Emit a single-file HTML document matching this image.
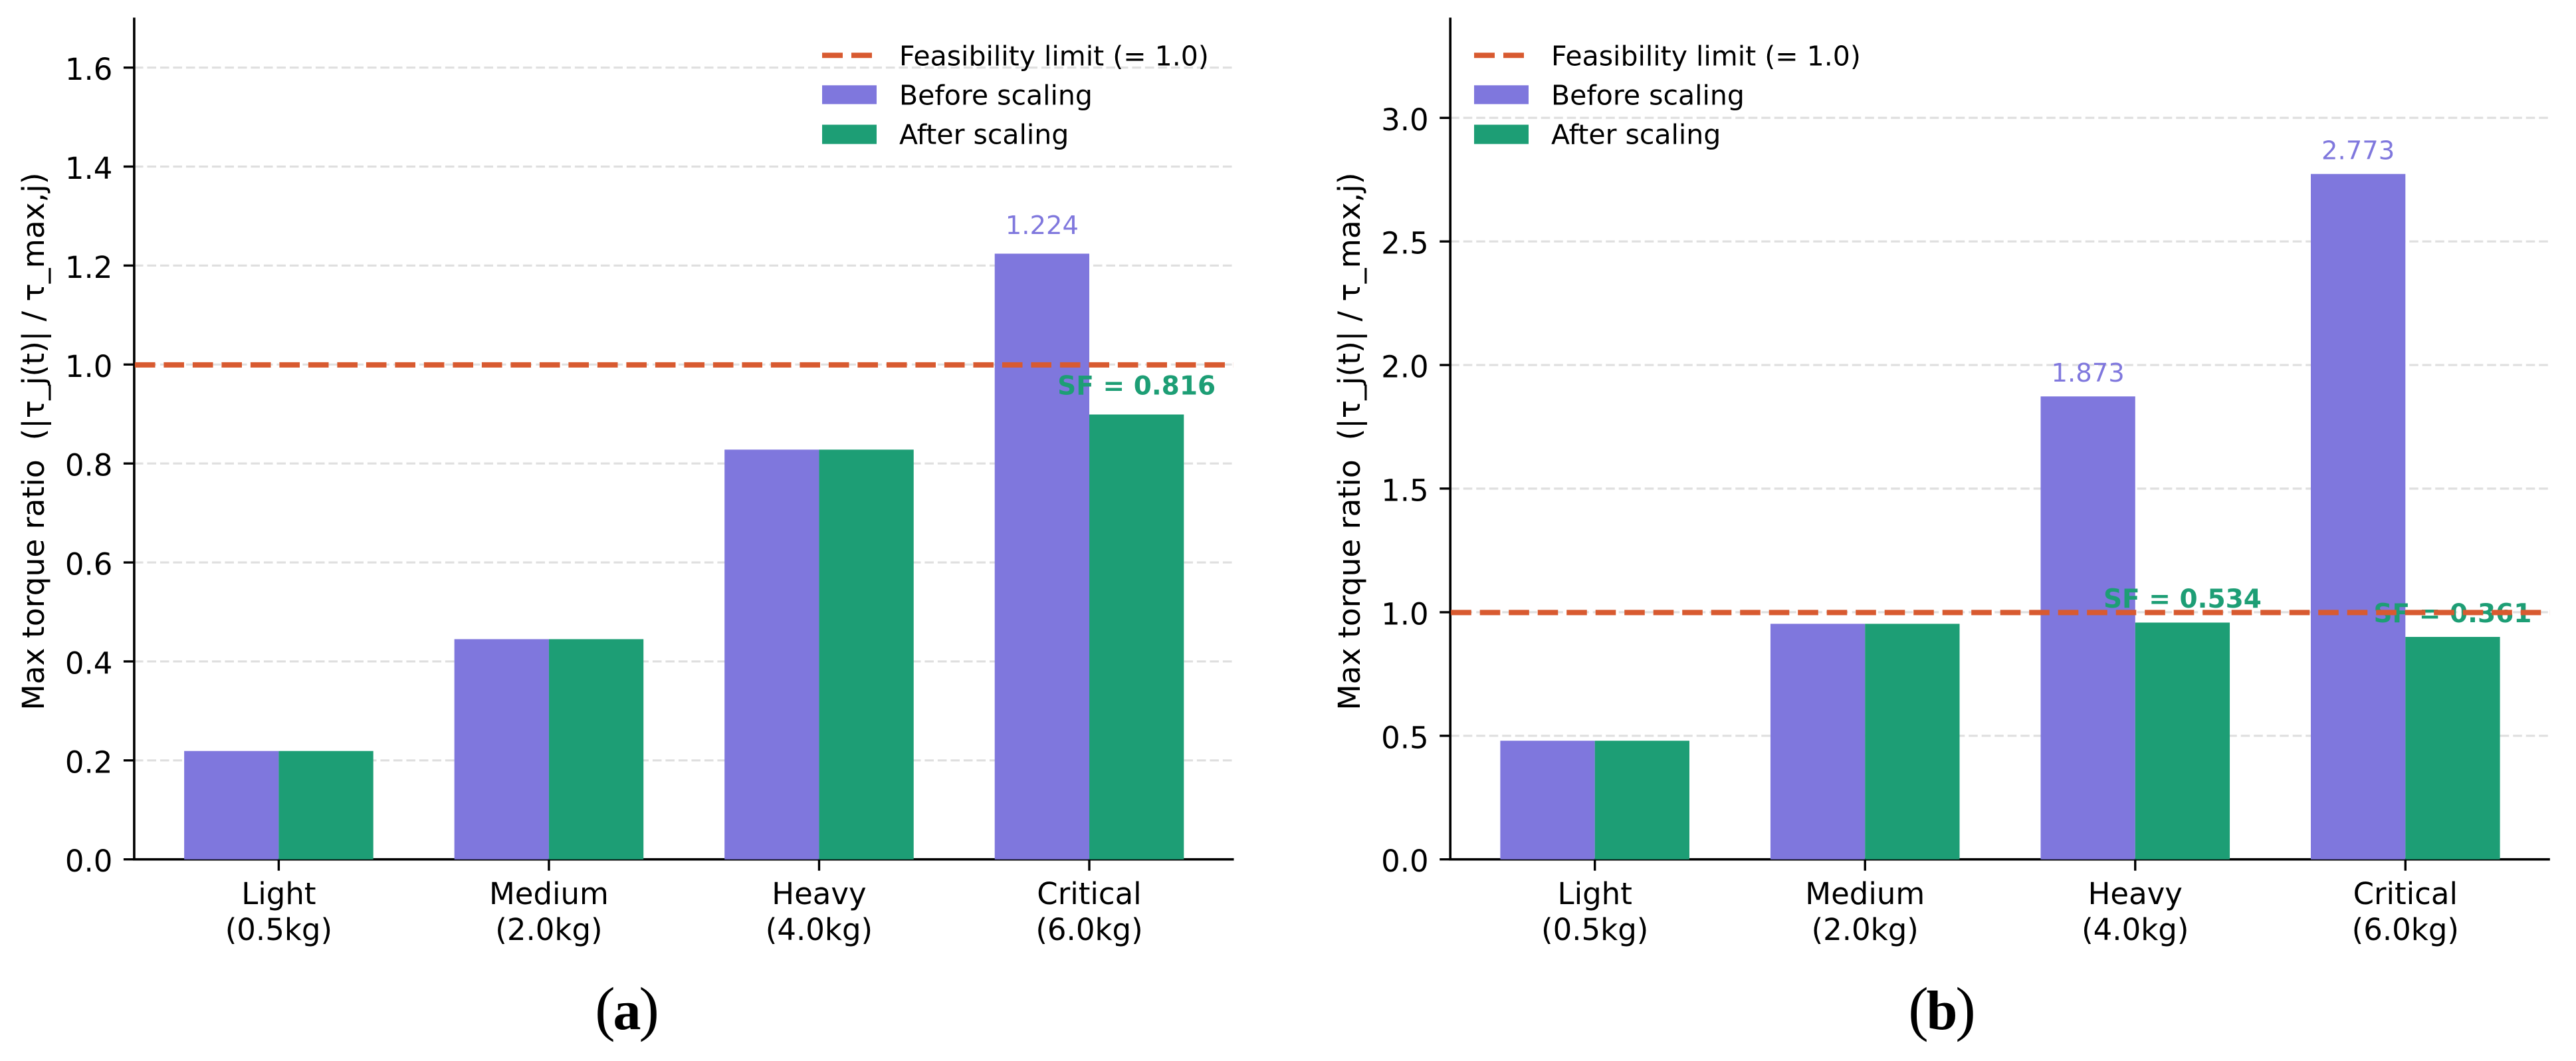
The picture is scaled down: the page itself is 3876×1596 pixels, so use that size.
<!DOCTYPE html>
<html>
<head>
<meta charset="utf-8">
<title>Max torque ratio before and after scaling</title>
<style>
html,body{margin:0;padding:0;background:#fff;width:3876px;height:1596px;overflow:hidden}
svg{display:block}
text{font-family:"DejaVu Sans","Liberation Sans",sans-serif;white-space:pre}
.sub{font-family:"Liberation Serif","DejaVu Serif",serif}
</style>
</head>
<body>
<svg id="figure" xmlns="http://www.w3.org/2000/svg" width="3876" height="1596" viewBox="0 0 3876 1596">
<rect x="0" y="0" width="3876" height="1596" fill="#ffffff"/>
</svg>
<script>
var categoryNames = ["Light", "Medium", "Heavy", "Critical"];
var categoryMasses = ["(0.5kg)", "(2.0kg)", "(4.0kg)", "(6.0kg)"];

var beforeA = [0.219, 0.445, 0.828, 1.224];
var afterA = [0.219, 0.445, 0.828, 0.899];
var scaleFactorA = [null, null, null, 0.816];
var tickValuesA = [0.0, 0.2, 0.4, 0.6, 0.8, 1.0, 1.2, 1.4, 1.6];
var tickLabelsA = ["0.0", "0.2", "0.4", "0.6", "0.8", "1.0", "1.2", "1.4", "1.6"];

var beforeB = [0.480, 0.953, 1.873, 2.773];
var afterB = [0.480, 0.953, 0.958, 0.900];
var scaleFactorB = [null, null, 0.534, 0.361];
var tickValuesB = [0.0, 0.5, 1.0, 1.5, 2.0, 2.5, 3.0];
var tickLabelsB = ["0.0", "0.5", "1.0", "1.5", "2.0", "2.5", "3.0"];

var feasibilityLimit = 1.0;
var legendLabels = ["Feasibility limit (= 1.0)", "Before scaling", "After scaling"];

var PURPLE = "#7F77DD", GREEN = "#1D9E75", ORANGE = "#D85A30", GRID = "#dfdfdf";
var svg = document.getElementById("figure");
var NS = "http://www.w3.org/2000/svg";

function make(parent, tag, attrs, txt) {
  var el = document.createElementNS(NS, tag);
  for (var k in attrs) el.setAttribute(k, attrs[k]);
  if (txt !== undefined) el.textContent = txt;
  parent.appendChild(el);
  return el;
}

function drawPanel(p) {
  var el;
  var top = 26.5, base = 1292.7;
  var xMin = -0.535, xMax = 3.535, barW = 0.35;
  function xs(v) { return p.left + (v - xMin) / (xMax - xMin) * (p.right - p.left); }
  function ys(v) { return base - v / p.yMax * (base - top); }

  var g = make(svg, "g", {});
  
  

  // gridlines
  p.ticks.forEach(function (t) {
    el = make(g, "line", {x1: p.left, x2: p.right, y1: ys(t), y2: ys(t), stroke: GRID, "stroke-width": 3.2, "stroke-dasharray": "13.6 5.9"});
    
    
  });

  // spines
  el = make(g, "line", {x1: p.left, x2: p.left, y1: top, y2: base + 1.8, stroke: "#000", "stroke-width": 3.6});
  
  
  el = make(g, "line", {x1: p.left - 1.8, x2: p.right, y1: base, y2: base, stroke: "#000", "stroke-width": 3.6});
  
  

  // bars
  categoryNames.forEach(function (c, i) {
    el = make(g, "rect", {x: xs(i - barW), y: ys(p.before[i]), width: xs(i) - xs(i - barW), height: base - ys(p.before[i]), fill: PURPLE});
    
    
    el = make(g, "rect", {x: xs(i), y: ys(p.after[i]), width: xs(i + barW) - xs(i), height: base - ys(p.after[i]), fill: GREEN});
    
    
  });

  // value labels
  categoryNames.forEach(function (c, i) {
    if (p.sf[i] === null) return;
    el = make(g, "text", {x: xs(i - barW / 2), y: ys(p.before[i] + p.offset), "text-anchor": "middle", "font-size": 38.5, fill: PURPLE}, p.before[i].toFixed(3));
    
    
    el = make(g, "text", {x: xs(i + barW / 2), y: ys(p.after[i] + p.offset), "text-anchor": "middle", "font-size": 39, "font-weight": "bold", fill: GREEN}, "SF = " + p.sf[i].toFixed(3));
    
    
  });

  // feasibility line
  el = make(g, "line", {x1: p.left + 1, x2: p.right - 0.5, y1: ys(feasibilityLimit) + 0.5, y2: ys(feasibilityLimit) + 0.5, stroke: ORANGE, "stroke-width": 8, "stroke-dasharray": "30.6 12.9"});
  
  

  // y ticks
  p.ticks.forEach(function (t, i) {
    el = make(g, "line", {x1: p.left - 16, x2: p.left, y1: ys(t), y2: ys(t), stroke: "#000", "stroke-width": 3.4});
    
    
    el = make(g, "text", {x: p.left - 32.5, y: ys(t) + 18.5, "text-anchor": "end", "font-size": 45, fill: "#000"}, p.tickLabels[i]);
    
    
  });

  // x ticks
  categoryNames.forEach(function (c, i) {
    el = make(g, "line", {x1: xs(i), x2: xs(i), y1: base, y2: base + 17, stroke: "#000", "stroke-width": 3.4});
    
    
    el = make(g, "text", {x: xs(i), y: 1360, "text-anchor": "middle", "font-size": 45, fill: "#000"}, c);
    
    
    el = make(g, "text", {x: xs(i), y: 1414, "text-anchor": "middle", "font-size": 45, fill: "#000"}, categoryMasses[i]);
    
    
  });

  // y-axis title
  el = make(g, "text", {x: 0, y: 0, "text-anchor": "middle", "font-size": 45.5, fill: "#000", transform: "translate(" + (p.left - 136) + " 664) rotate(-90)"}, "Max torque ratio  (|\u03C4_j(t)| / \u03C4_max,j)");
  
  

  // legend
  var lg = make(g, "g", {});
  
  
  var lx = p.legendX;
  el = make(lg, "line", {x1: lx, x2: lx + 82, y1: 83.3, y2: 83.3, stroke: ORANGE, "stroke-width": 8, "stroke-dasharray": "31 13"});
  
  
  el = make(lg, "rect", {x: lx, y: 128.3, width: 82, height: 28.3, fill: PURPLE});
  
  
  el = make(lg, "rect", {x: lx, y: 187.6, width: 82, height: 29, fill: GREEN});
  
  
  legendLabels.forEach(function (t, i) {
    el = make(lg, "text", {x: lx + 116, y: 98.5 + 59 * i, "font-size": 41, fill: "#000"}, t);
    
    
  });

  // sub-figure label
  var s = make(g, "text", {x: p.subX, y: 1548, "text-anchor": "middle", "font-size": 84, fill: "#000", "class": "sub"});
  
  
  var a = make(s, "tspan", {"font-size": 91}, "(");
  a = make(s, "tspan", {"font-weight": "bold", dx: -3}, p.subLetter);
  a = make(s, "tspan", {"font-size": 91, dx: -3}, ")");
}

drawPanel({left: 201.9, right: 1856.5, yMax: 1.701, before: beforeA, after: afterA, sf: scaleFactorA, ticks: tickValuesA, tickLabels: tickLabelsA, offset: 0.04, legendX: 1237, subX: 943.5, subLetter: "a"});
drawPanel({left: 2182.2, right: 3836.8, yMax: 3.4055, before: beforeB, after: afterB, sf: scaleFactorB, ticks: tickValuesB, tickLabels: tickLabelsB, offset: 0.06, legendX: 2218, subX: 2922, subLetter: "b"});
</script>
</body>
</html>
